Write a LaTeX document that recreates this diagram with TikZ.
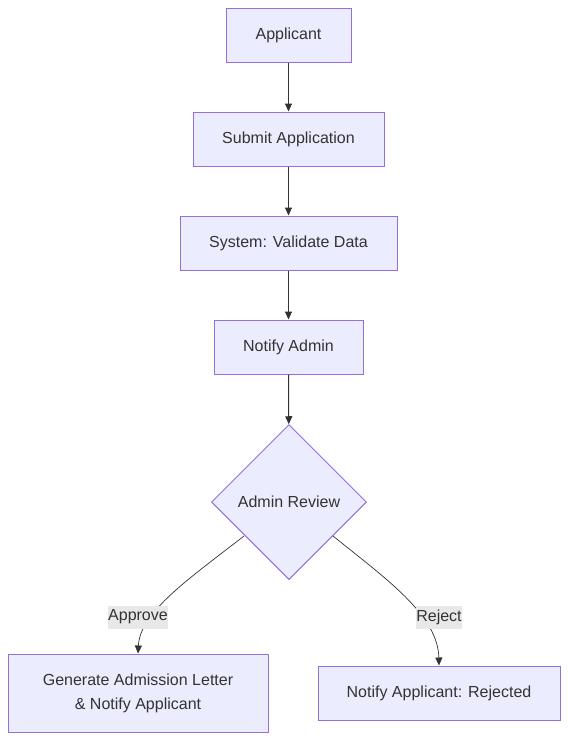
\documentclass[tikz,border=0pt]{standalone}
\usepackage{fontspec}
\setmainfont{Liberation Sans}
\usetikzlibrary{arrows.meta,shapes.geometric}
\definecolor{nodefill}{HTML}{ECECFF}
\definecolor{nodedraw}{HTML}{9370DB}
\definecolor{txt}{HTML}{333333}
\definecolor{edge}{HTML}{333333}
\definecolor{lblbg}{HTML}{E8E8E8}
\tikzset{
  box/.style={draw=nodedraw, fill=nodefill, line width=1pt, text=txt, inner sep=0pt,
    font=\fontsize{16}{24}\selectfont, align=center},
  decision/.style={draw=nodedraw, fill=nodefill, line width=1pt, text=txt, diamond,
    aspect=1, minimum width=155pt, minimum height=155pt, inner sep=0pt,
    font=\fontsize{16}{24}\selectfont},
  conn/.style={draw=edge, line width=1pt, -{Triangle[length=8pt,width=7pt]}},
  curve/.style={draw=edge, line width=0.7pt, -{Triangle[length=8pt,width=7pt]}},
  elabel/.style={fill=lblbg, text=txt, inner sep=0pt, minimum height=23pt,
    font=\fontsize{16}{20}\selectfont},
}
\begin{document}
\begin{tikzpicture}[x=1pt,y=-1pt]
\useasboundingbox (0,0) rectangle (568,740);
\fill[white] (0,0) rectangle (568,740);

\node[box, minimum width=125pt, minimum height=54pt] (app) at (288.5,35) {Applicant};
\node[box, minimum width=191pt, minimum height=54pt] (sub) at (288.5,139) {Submit Application};
\node[box, minimum width=217pt, minimum height=54pt] (val) at (288.5,243) {System: Validate Data};
\node[box, minimum width=149pt, minimum height=54pt] (nad) at (288.5,347) {Notify Admin};
\node[decision] (rev) at (289,502) {Admin Review};
\node[box, minimum width=260pt, minimum height=78pt] (gen) at (138,693) {Generate Admission Letter\\\& Notify Applicant};
\node[box, minimum width=242pt, minimum height=54pt] (rej) at (439,693) {Notify Applicant: Rejected};

\draw[conn] (app) -- (sub);
\draw[conn] (sub) -- (val);
\draw[conn] (val) -- (nad);
\draw[conn] (nad) -- (rev);

\coordinate (ls) at (244,536);
\coordinate (rs) at (333,536);
\draw[curve] (ls) .. controls (190,578) and (140,612) .. (gen.north);
\draw[curve] (rs) .. controls (385,578) and (438,615) .. (rej.north);

\node[elabel, minimum width=60pt] (lapp) at (138,617) {Approve};
\node[elabel, minimum width=46pt] (lrej) at (439,617) {Reject};
\end{tikzpicture}
\end{document}
